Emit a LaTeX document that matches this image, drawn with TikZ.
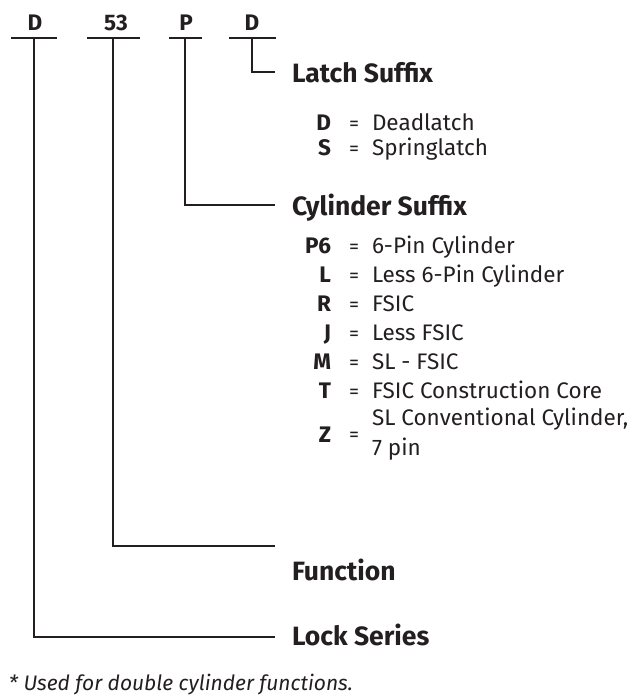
\documentclass[tikz,border=0pt]{standalone}
\usepackage{fontspec}
\setmainfont{Fira Sans}
\definecolor{ink}{HTML}{231F20}
\begin{document}
\begin{tikzpicture}[x=1pt,y=-1pt,
  every node/.style={inner sep=0pt, outer sep=0pt, text=ink},
  rule/.style={draw=ink, line width=2pt},
  code/.style={font=\fontsize{22.5}{26}\bfseries\selectfont, anchor=base},
  head/.style={font=\fontsize{26.5}{30}\bfseries\selectfont, anchor=base west},
  keyl/.style={font=\fontsize{22.5}{26}\bfseries\selectfont, anchor=base east},
  eqs/.style={font=\fontsize{20}{22}\selectfont, anchor=base},
  val/.style={font=\fontsize{22.5}{26}\selectfont, anchor=base west},
  note/.style={font=\fontsize{21}{24}\itshape\selectfont, anchor=base west}]
\useasboundingbox (0,0) rectangle (639,696);
% top codes
\node[code] (cD) at (35,30) {D};
\node[code] (c53) at (116,30) {53};
\node[code] (cP) at (186,30) {P};
\node[code] (cD2) at (252,30) {D};
\coordinate (u1a) at (11,38); \coordinate (u1b) at (57,38);
\coordinate (u2a) at (87,38); \coordinate (u2b) at (140,38);
\coordinate (u3a) at (169,38); \coordinate (u3b) at (202,38);
\coordinate (u4a) at (229,38); \coordinate (u4b) at (276,38);
\draw[rule] (u1a) -- (u1b);
\draw[rule] (u2a) -- (u2b);
\draw[rule] (u3a) -- (u3b);
\draw[rule] (u4a) -- (u4b);
\coordinate (t1) at (34,38); \coordinate (t2) at (113,38);
\coordinate (t3) at (185,38); \coordinate (t4) at (252,38);
% headings
\node[head] (hLatch) at (292,82) {Latch Suffix};
\node[head] (hCyl) at (292,215) {Cylinder Suffix};
\node[head] (hFun) at (292,580) {Function};
\node[head] (hLock) at (292,645) {Lock Series};
\coordinate (e1) at (275,72); \coordinate (e2) at (275,205);
\coordinate (e3) at (275,546); \coordinate (e4) at (275,637);
\draw[rule] (t4) |- (e1);
\draw[rule] (t3) |- (e2);
\draw[rule] (t2) |- (e3);
\draw[rule] (t1) |- (e4);
% latch entries
\node[keyl] (kD) at (331,130) {D};   \node[eqs] (qD) at (354,130) {=}; \node[val] (vD) at (372,130) {Deadlatch};
\node[keyl] (kS) at (331,155) {S};   \node[eqs] (qS) at (354,155) {=}; \node[val] (vS) at (372,155) {Springlatch};
% cylinder entries
\node[keyl] (kP6) at (331,253) {P6}; \node[eqs] (qP6) at (354,253) {=}; \node[val] (vP6) at (372,253) {6-Pin Cylinder};
\node[keyl] (kL) at (331,282) {L};   \node[eqs] (qL) at (354,282) {=}; \node[val] (vL) at (372,282) {Less 6-Pin Cylinder};
\node[keyl] (kR) at (331,311) {R};   \node[eqs] (qR) at (354,311) {=}; \node[val] (vR) at (372,311) {FSIC};
\node[keyl] (kJ) at (331,340) {J};   \node[eqs] (qJ) at (354,340) {=}; \node[val] (vJ) at (372,340) {Less FSIC};
\node[keyl] (kM) at (331,369) {M};   \node[eqs] (qM) at (354,369) {=}; \node[val] (vM) at (372,369) {SL - FSIC};
\node[keyl] (kT) at (331,398) {T};   \node[eqs] (qT) at (354,398) {=}; \node[val] (vT) at (372,398) {FSIC Construction Core};
\node[val] (vZ1) at (372,425) {SL Conventional Cylinder,};
\node[keyl] (kZ) at (331,442) {Z};   \node[eqs] (qZ) at (354,441) {=};
\node[val] (vZ2) at (372,455) {7 pin};
% footnote
\node[note] (fn) at (9,690) {* Used for double cylinder functions.};
\end{tikzpicture}
\end{document}
